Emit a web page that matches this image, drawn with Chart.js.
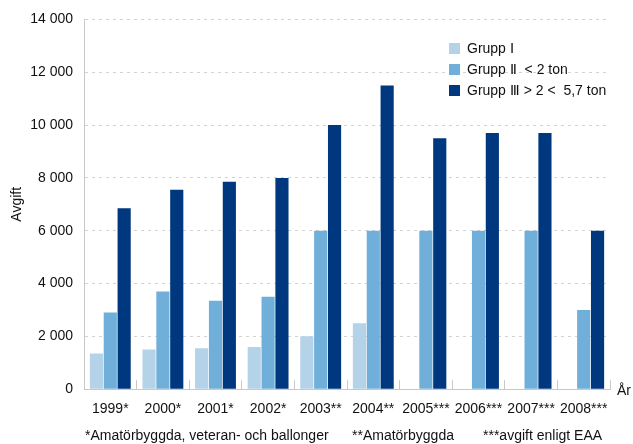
<!DOCTYPE html>
<html>
<head>
<meta charset="utf-8">
<script src="https://cdn.jsdelivr.net/npm/chart.js@4"></script>
<style>
  body { margin: 0; background: #fff; }
  #wrap { position: relative; width: 633px; height: 444px; font-family: "Liberation Sans", Arial, sans-serif; font-size: 14px; color: #111; }
  #legend { position: absolute; left: 449px; top: 38px; }
  #legend div { height: 21px; line-height: 21px; white-space: pre; }
  #legend span { display: inline-block; width: 11px; height: 11px; margin-right: 7px; vertical-align: -1px; }
  .note { position: absolute; top: 427px; white-space: nowrap; }
</style>
</head>
<body>
<div id="wrap">
  <canvas id="avgiftChart" width="633" height="444"></canvas>
  <div id="legend"></div>
  <div class="note" style="left:85px">*Amatörbyggda, veteran- och ballonger</div>
  <div class="note" style="left:352px">**Amatörbyggda</div>
  <div class="note" style="left:483px">***avgift enligt EAA</div>
</div>
<script>
const years = ['1999*', '2000*', '2001*', '2002*', '2003**', '2004**', '2005***', '2006***', '2007***', '2008***'];
const grupp1 = [1350, 1500, 1550, 1600, 2000, 2500, null, null, null, null];
const grupp2 = [2900, 3700, 3350, 3500, 6000, 6000, 6000, 6000, 6000, 3000];
const grupp3 = [6850, 7550, 7850, 8000, 10000, 11500, 9500, 9700, 9700, 6000];
const labels = ['Grupp Ⅰ', 'Grupp Ⅱ  < 2 ton', 'Grupp Ⅲ > 2 <  5,7 ton'];
const colors = ['#b4d2e8', '#6fafda', '#00387f'];

const font = { family: '"Liberation Sans", Arial, sans-serif', size: 14 };

// "År" at the right end of the x axis
const axisUnit = {
    id: 'axisUnit',
    afterDraw(chart) {
        const ctx = chart.ctx;
        const a = chart.chartArea;
        ctx.save();
        ctx.font = '14px "Liberation Sans", Arial, sans-serif';
        ctx.fillStyle = '#111';
        ctx.textBaseline = 'middle';
        ctx.fillText('År', a.right + 7, a.bottom + 2);
        ctx.restore();
    }
};

const ctx = document.getElementById('avgiftChart');
const chart = new Chart(ctx, {
    type: 'bar',
    data: {
        labels: years,
        datasets: [grupp1, grupp2, grupp3].map((d, i) => ({
            label: labels[i],
            data: d,
            backgroundColor: colors[i],
            barPercentage: 0.95,
            categoryPercentage: 0.79
        }))
    },
    options: {
        responsive: false,
        animation: false,
        layout: { padding: { top: 9, left: 6, right: 23, bottom: 5 } },
        plugins: {
            legend: { display: false },
            tooltip: { enabled: false }
        },
        scales: {
            x: {
                grid: { drawOnChartArea: false, color: '#c8c8c8', tickLength: -9, offset: true },
                border: { color: '#c8c8c8', width: 1 },
                ticks: { color: '#111', font: font, padding: 21, maxRotation: 0, autoSkip: false }
            },
            y: {
                min: 0,
                max: 14000,
                afterFit: s => { s.width = 78; },
                grid: { color: '#d2d2d2', drawTicks: false },
                border: { color: '#c8c8c8', width: 1, dash: [3, 4] },
                ticks: {
                    stepSize: 2000,
                    color: '#111',
                    font: font,
                    padding: 11,
                    callback: v => String(v).replace(/\B(?=(\d{3})+(?!\d))/g, ' ')
                },
                title: { display: true, text: 'Avgift', color: '#111', font: font, padding: 3 }
            }
        }
    },
    plugins: [axisUnit]
});

// legend drawn beside the bars
const legend = document.getElementById('legend');
labels.forEach((t, i) => {
    const row = document.createElement('div');
    const box = document.createElement('span');
    box.style.background = colors[i];
    row.appendChild(box);
    row.appendChild(document.createTextNode(t));
    legend.appendChild(row);
});
</script>
</body>
</html>
